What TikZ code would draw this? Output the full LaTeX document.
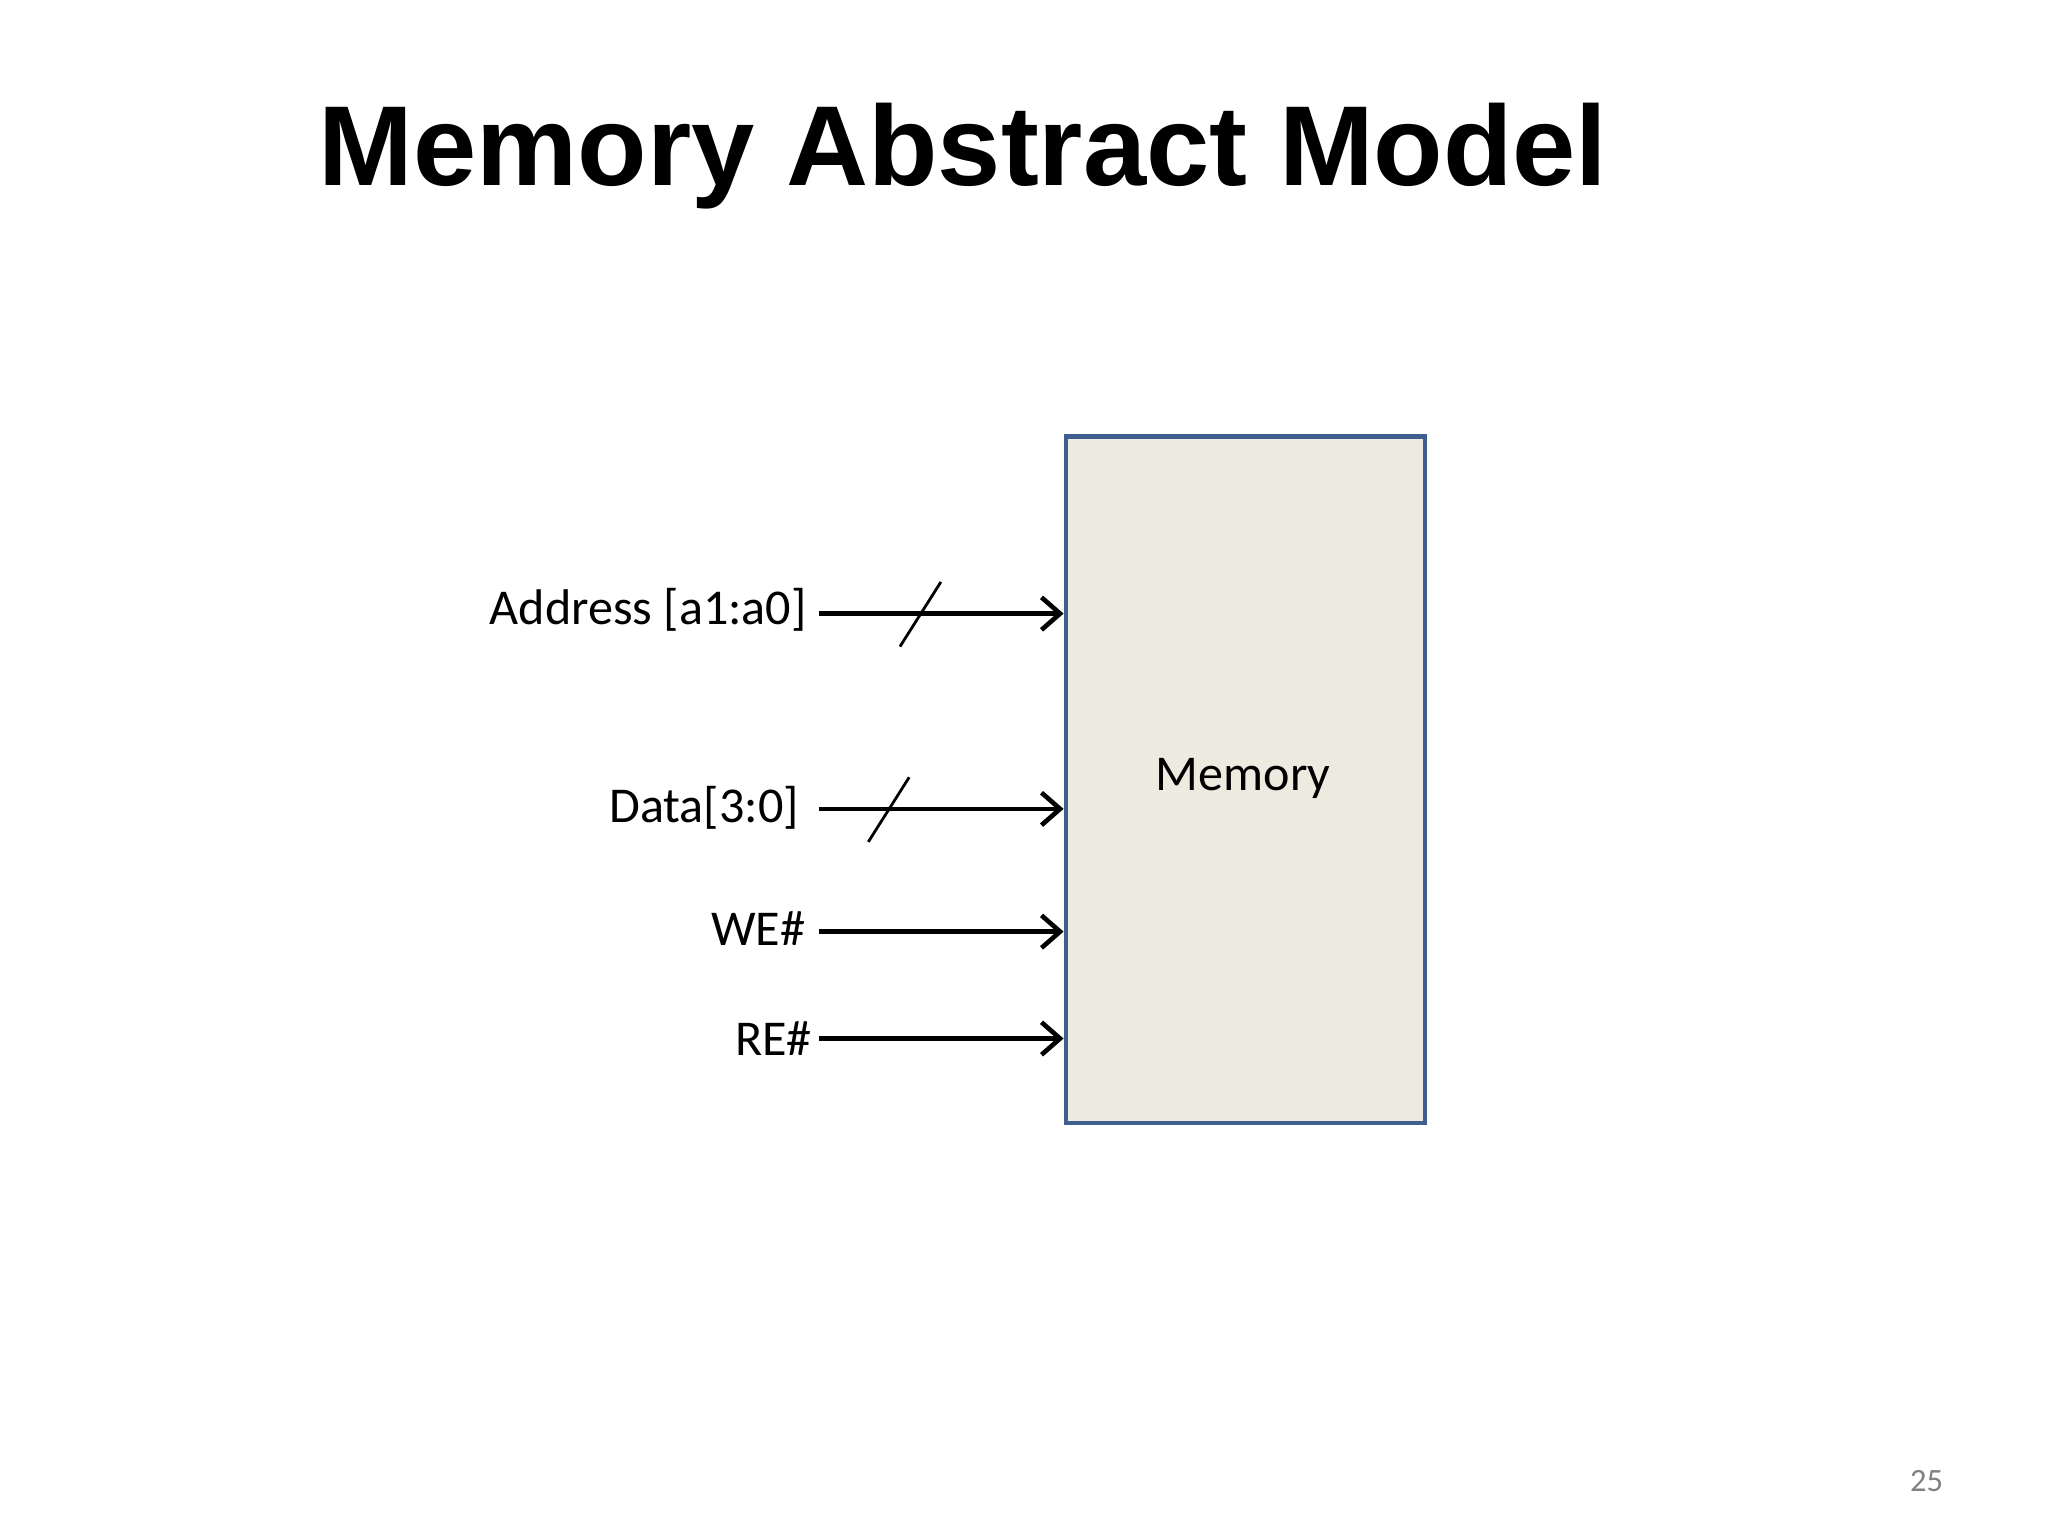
\documentclass[tikz,border=0pt]{standalone}
\usepackage{fontspec}
\setmainfont{Carlito}
\newfontfamily\titlefont{Liberation Sans}
\usetikzlibrary{arrows.meta}
\begin{document}
\begin{tikzpicture}[x=0.01cm,y=-0.01cm,
  sig/.style={line width=1pt,-{Straight Barb[length=4pt,width=7pt,line width=1pt]}},
  bus/.style={line width=0.6pt},
  lbl/.style={anchor=east,inner sep=0pt,font=\fontsize{10.8}{13}\selectfont}]
\useasboundingbox (0,0) rectangle (1552,1164);
\node[font=\titlefont\bfseries\fontsize{24.5}{28}\selectfont] (title) at (730,118) {Memory Abstract Model};
\node[draw={rgb,255:red,63;green,95;blue,143},fill={rgb,255:red,237;green,234;blue,224},line width=1pt,minimum width=2.72cm,minimum height=5.2cm,anchor=north west,inner sep=0pt] (mem) at (806,329) {};
\node[font=\fontsize{10.8}{13}\selectfont] (memlbl) at (942,590) {Memory};
\node[lbl] (addr) at (612,462) {Address [a1:a0]};
\node[lbl] (data) at (606,612) {Data[3:0]};
\node[lbl] (we) at (611,704) {WE\#};
\node[lbl] (re) at (616,787) {RE\#};
\coordinate (a1) at (621,465); \coordinate (a2) at (806,465);
\coordinate (d1) at (621,613); \coordinate (d2) at (806,613);
\coordinate (w1) at (621,706); \coordinate (w2) at (806,706);
\coordinate (r1) at (621,787); \coordinate (r2) at (806,787);
\draw[sig] (a1) -- (a2);
\draw[sig] (d1) -- (d2);
\draw[sig] (w1) -- (w2);
\draw[sig] (r1) -- (r2);
\coordinate (sa1) at (682,490); \coordinate (sa2) at (713,441);
\coordinate (sd1) at (658,638); \coordinate (sd2) at (689,589);
\draw[bus] (sa1) -- (sa2);
\draw[bus] (sd1) -- (sd2);
\node[text=gray,font=\fontsize{7}{8}\selectfont] (pg) at (1460,1122) {25};
\end{tikzpicture}
\end{document}
